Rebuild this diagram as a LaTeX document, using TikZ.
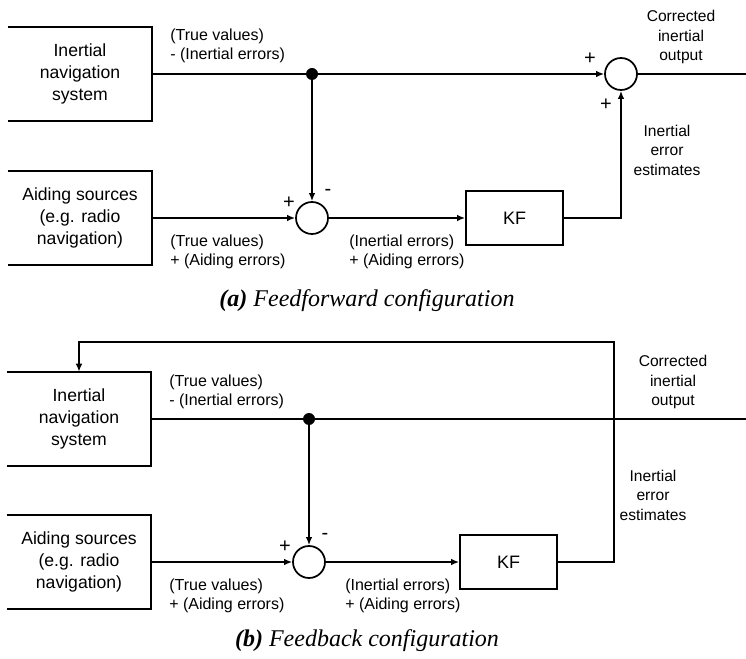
\documentclass[tikz,border=0pt]{standalone}
\usepackage{fontspec}
\setmainfont{Liberation Sans}
\newfontfamily\capfont{Liberation Serif}
\usepackage{tikz}
\usetikzlibrary{arrows.meta}

\begin{document}
\begin{tikzpicture}[x=0.75pt, y=-0.75pt,
		wire/.style={line width=1.7pt},
		arr/.style={wire, arrows={-Latex[length=6pt, width=5pt]}},
		block/.style={minimum width=108pt, minimum height=70.5pt, inner sep=0pt, align=center, font=\fontsize{13.2}{16.5}\selectfont},
		kfbox/.style={draw, line width=1.3pt, minimum width=72.75pt, minimum height=40pt, inner sep=0pt, font=\fontsize{13.5}{15}\selectfont},
		sumc/.style={draw, circle, line width=1.3pt, minimum size=24pt, inner sep=0pt},
		dotc/.style={fill, circle, minimum size=9pt, inner sep=0pt},
		lbl/.style={align=left, anchor=west, inner sep=0pt, font=\fontsize{12}{14}\selectfont},
		side/.style={align=center, inner sep=0pt, font=\fontsize{11.7}{14.6}\selectfont},
		sgn/.style={inner sep=0pt, font=\fontsize{15}{15}\selectfont},
		capt/.style={inner sep=0pt, font=\capfont\fontsize{18}{20}\selectfont\itshape}]
		\useasboundingbox (0,0) rectangle (746,659);

		\node[block] (ins1) at (80,74) {Inertial\\navigation\\system};
		\node[block] (aid1) at (80,218) {Aiding sources\\(e.g. radio\\navigation)};
		\node[dotc] (split1) at (312,74) {};
		\node[sumc] (sumA1) at (312,218) {};
		\node[kfbox] (kf1) at (514.5,218) {KF};
		\node[sumc] (sumB1) at (621,74) {};
		\coordinate (out1) at (746,74);
		\coordinate (up1) at (621,218);
		\draw[line width=1.3pt] (ins1.north west) -- (ins1.north east) -- (ins1.south east) -- (ins1.south west);
		\draw[line width=1.3pt] (aid1.north west) -- (aid1.north east) -- (aid1.south east) -- (aid1.south west);
		\draw[wire] (ins1.east) -- (split1);
		\draw[arr] (split1) -- (sumB1.west);
		\draw[wire] (sumB1.east) -- (out1);
		\draw[arr] (split1) -- (sumA1.north);
		\draw[arr] (aid1.east) -- (sumA1.west);
		\draw[arr] (sumA1.east) -- (kf1.west);
		\draw[arr] (kf1.east) -- (up1) -- (sumB1.south);
		\node[lbl] (tv1) at (170,46) {(True values)\\- (Inertial errors)};
		\node[lbl] (ta1) at (170,252) {(True values)\\+ (Aiding errors)};
		\node[lbl] (ie1) at (349,252) {(Inertial errors)\\+ (Aiding errors)};
		\node[side] (co1) at (681,37) {Corrected\\inertial\\output};
		\node[side] (ee1) at (667,150) {Inertial\\error\\estimates};
		\node[sgn] (pA1) at (289,203) {+};
		\node[sgn] (mA1) at (328,192) {-};
		\node[sgn] (pB1) at (590,59) {+};
		\node[sgn] (pC1) at (606,105) {+};
		\node[capt] (cap1) at (367,301) {\textbf{(a)} Feedforward configuration};

		\node[block] (ins2) at (79,419) {Inertial\\navigation\\system};
		\node[block] (aid2) at (79,562) {Aiding sources\\(e.g. radio\\navigation)};
		\node[dotc] (split2) at (309,419) {};
		\node[sumc] (sumA2) at (309,562) {};
		\node[kfbox] (kf2) at (508.5,562) {KF};
		\coordinate (out2) at (746,419);
		\coordinate (fbr) at (614,562);
		\coordinate (fbt) at (614,342);
		\coordinate (fbl) at (79,342);
		\draw[line width=1.3pt] (ins2.north west) -- (ins2.north east) -- (ins2.south east) -- (ins2.south west);
		\draw[line width=1.3pt] (aid2.north west) -- (aid2.north east) -- (aid2.south east) -- (aid2.south west);
		\draw[wire] (ins2.east) -- (out2);
		\draw[arr] (split2) -- (sumA2.north);
		\draw[arr] (aid2.east) -- (sumA2.west);
		\draw[arr] (sumA2.east) -- (kf2.west);
		\draw[arr] (kf2.east) -- (fbr) -- (fbt) -- (fbl) -- (ins2.north);
		\node[lbl] (tv2) at (169,392) {(True values)\\- (Inertial errors)};
		\node[lbl] (ta2) at (169,596) {(True values)\\+ (Aiding errors)};
		\node[lbl] (ie2) at (345,596) {(Inertial errors)\\+ (Aiding errors)};
		\node[side] (co2) at (673,382) {Corrected\\inertial\\output};
		\node[side] (ee2) at (653,495) {Inertial\\error\\estimates};
		\node[sgn] (pA2) at (285,547) {+};
		\node[sgn] (mA2) at (325,536) {-};
		\node[capt] (cap2) at (367,641) {\textbf{(b)} Feedback configuration};
	\end{tikzpicture}
\end{document}
